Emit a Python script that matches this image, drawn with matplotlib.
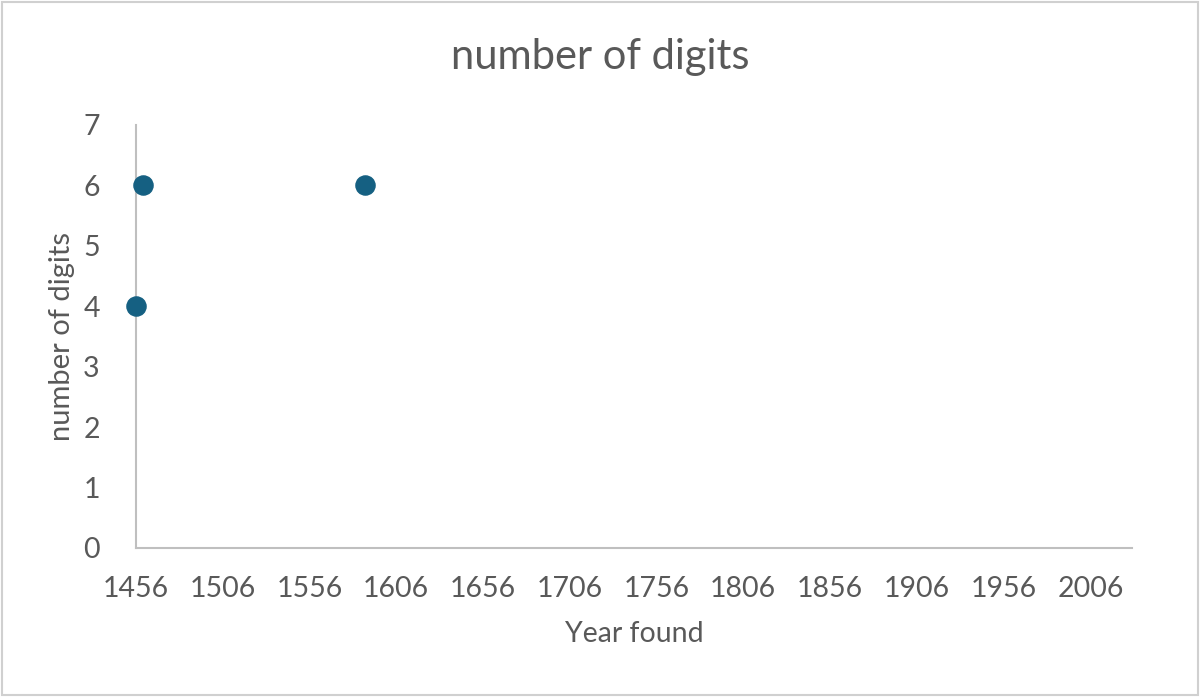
import matplotlib
matplotlib.use("Agg")
import matplotlib.pyplot as plt
from matplotlib.patches import Rectangle

years = [1456, 1460, 1588]
digits = [4, 6, 6]
x_ticks = [1456, 1506, 1556, 1606, 1656, 1706, 1756, 1806, 1856, 1906, 1956, 2006]
y_ticks = [0, 1, 2, 3, 4, 5, 6, 7]

plt.rcParams['font.family'] = ['Lato', 'DejaVu Sans']
txt = '#595959'

fig = plt.figure(figsize=(12, 6.97), dpi=100)
ax = fig.add_axes([0.1133, 0.2138, 0.8300, 0.6069])
ax.scatter(years, digits, s=190, color='#156082', zorder=3, clip_on=False)
ax.set_xlim(1456, 2030)
ax.set_ylim(0, 7)
ax.set_xticks(x_ticks)
ax.set_yticks(y_ticks)
for s in ['top', 'right']:
    ax.spines[s].set_visible(False)
for s in ['left', 'bottom']:
    ax.spines[s].set_color('#BFBFBF')
    ax.spines[s].set_linewidth(1.5)
ax.tick_params(length=0, labelsize=20.5, colors=txt)
ax.tick_params(axis='x', pad=20)
ax.tick_params(axis='y', pad=26)
ax.set_xlabel('Year found', fontsize=20.5, color=txt, labelpad=14)
ax.set_ylabel('number of digits', fontsize=21, color=txt, labelpad=6)
fig.text(0.5, 1 - 57/697, 'number of digits', ha='center', va='center', fontsize=30, color=txt)
fig.patches.append(Rectangle((0.002, 0.003), 0.996, 0.994, transform=fig.transFigure,
                             fill=False, edgecolor='#D0D0D0', linewidth=1.5))
fig.savefig('out.png', dpi=100, facecolor='white')
